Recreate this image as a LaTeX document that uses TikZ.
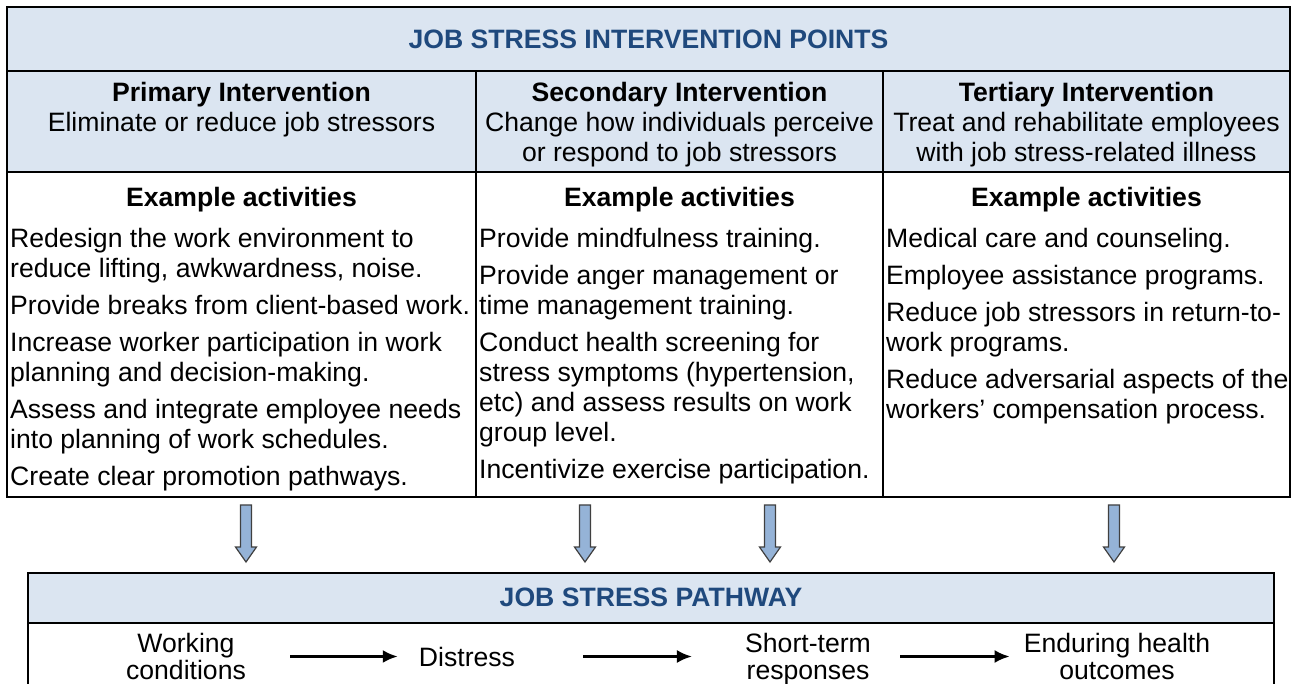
\documentclass[tikz,border=0pt]{standalone}
\usepackage{fontspec}
\setmainfont{Liberation Sans}
\usetikzlibrary{positioning,arrows.meta}
\definecolor{hdrfill}{HTML}{DBE5F1}
\definecolor{hdrblue}{HTML}{1F497D}
\definecolor{arrowfill}{HTML}{95B3D7}
\definecolor{arrowline}{HTML}{404040}
\begin{document}
\begin{tikzpicture}[x=1pt, y=-1pt, line join=miter,
    every node/.style={inner sep=0pt, font=\fontsize{26.6}{30}\selectfont},
    frame/.style={line width=2.6pt},
    titletext/.style={font=\fontsize{26.6}{30}\selectfont\bfseries, text=hdrblue, anchor=base},
    colhead/.style={align=center, anchor=base},
    activity/.style={align=left, anchor=base west},
    stepnode/.style={align=center, anchor=base, font=\fontsize{26.6}{27}\selectfont},
    flow/.style={-{Latex[length=15pt,width=13pt]}, line width=2.6pt},
    downarrow/.style={fill=arrowfill, draw=arrowline, line width=1.2pt}]

  %--- page ---
  \clip (0,0) rectangle (1294,684);

  %--- parameters (pixel grid of the reference) ---
  \def\L{7}     % left edge of the table
  \def\R{1290}  % right edge of the table
  \def\CA{476}  % first column rule
  \def\CB{883}  % second column rule
  \def\B{497}   % bottom of the table

  %--- intervention table ---
  \fill[hdrfill] (\L,7) rectangle (\R,172);
  \draw[frame] (\L,7) rectangle (\R,\B);
  \draw[frame] (\L,71) -- (\R,71);
  \draw[frame] (\L,172) -- (\R,172);
  \draw[frame] (\CA,71) -- (\CA,\B);
  \draw[frame] (\CB,71) -- (\CB,\B);

  \node[titletext] (title) at (648.5,48.5) {JOB STRESS INTERVENTION POINTS};

  % column heads (anchored on the baseline of the last line)
  \node[colhead] (prim) at (241.5,131.5)
      {\textbf{Primary Intervention}\\Eliminate or reduce job stressors};
  \node[colhead] (sec) at (679.5,161.5)
      {\textbf{Secondary Intervention}\\Change how individuals perceive\\or respond to job stressors};
  \node[colhead] (tert) at (1086.5,161.5)
      {\textbf{Tertiary Intervention}\\Treat and rehabilitate employees\\with job stress-related illness};

  \node[colhead] (primex) at (241.5,206.5) {\textbf{Example activities}};
  \node[colhead] (secex) at (679.5,206.5) {\textbf{Example activities}};
  \node[colhead] (tertex) at (1086.5,206.5) {\textbf{Example activities}};

  % example activities
  \node[activity] (primact) at (10,485.5)
      {Redesign the work environment to\\reduce lifting, awkwardness, noise.\\[7pt]
       Provide breaks from client-based work.\\[7pt]
       Increase worker participation in work\\planning and decision-making.\\[7pt]
       Assess and integrate employee needs\\into planning of work schedules.\\[7pt]
       Create clear promotion pathways.};
  \node[activity] (secact) at (479,478.5)
      {Provide mindfulness training.\\[7pt]
       Provide anger management or\\time management training.\\[7pt]
       Conduct health screening for\\stress symptoms (hypertension,\\etc) and assess results on work\\group level.\\[7pt]
       Incentivize exercise participation.};
  \node[activity] (tertact) at (886,418.5)
      {Medical care and counseling.\\[7pt]
       Employee assistance programs.\\[7pt]
       Reduce job stressors in return-to-\\work programs.\\[7pt]
       Reduce adversarial aspects of the\\workers’ compensation process.};

  %--- block arrows down to the pathway ---
  \foreach \ax in {246,585,770,1114}
    \draw[downarrow] (\ax-5.5,505) -- (\ax+5.5,505) -- (\ax+5.5,547) -- (\ax+10.5,547)
        -- (\ax,562) -- (\ax-10.5,547) -- (\ax-5.5,547) -- cycle;

  %--- job stress pathway ---
  \fill[hdrfill] (28,573) rectangle (1274,623);
  \draw[frame] (28,573) rectangle (1274,700);
  \draw[frame] (28,623) -- (1274,623);

  \node[titletext] (pathtitle) at (651,606.5) {JOB STRESS PATHWAY};

  \node[stepnode] (work) at (186,679.5) {Working\\conditions};
  \node[stepnode] (dist) at (467,666) {Distress};
  \node[stepnode] (short) at (808,679.5) {Short-term\\responses};
  \node[stepnode] (endur) at (1117,679.5) {Enduring health\\outcomes};

  \draw[flow] ([xshift=44pt]work.east |- dist.west) -- ([xshift=-21pt]dist.west);
  \draw[flow] ([xshift=68pt]dist.east) -- ([xshift=-53pt]short.west |- dist.east);
  \draw[flow] ([xshift=29pt]short.east |- dist.east) -- ([xshift=-14pt]endur.west |- dist.east);

\end{tikzpicture}
\end{document}
